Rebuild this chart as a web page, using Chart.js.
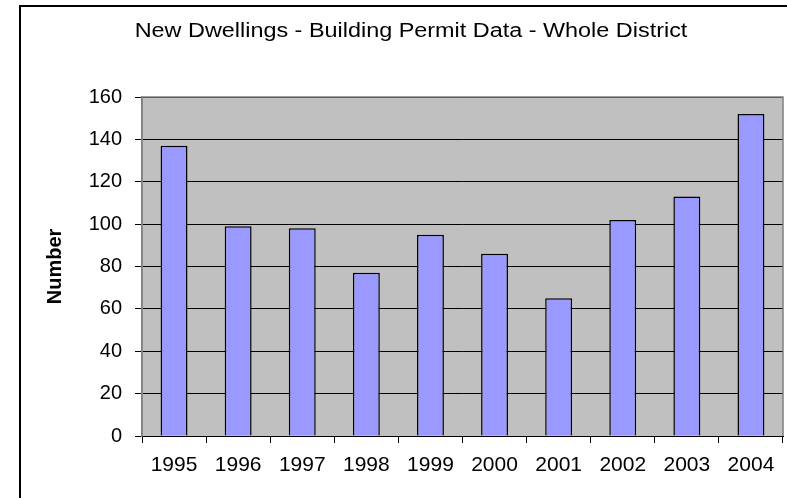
<!DOCTYPE html>
<html>
<head>
<meta charset="utf-8">
<script src="https://cdn.jsdelivr.net/npm/chart.js@4"></script>
<style>
  html, body { margin: 0; padding: 0; background: #fff; }
  #wrap { width: 787px; height: 498px; }
</style>
</head>
<body>
<div id="wrap"><canvas id="grafico"></canvas></div>
<script>
const titulo = "New Dwellings - Building Permit Data - Whole District";
const years = ["1995", "1996", "1997", "1998", "1999", "2000", "2001", "2002", "2003", "2004"];
const dwellings = [137, 99, 98, 77, 95, 86, 65, 102, 113, 152];
const yTicks = [0, 20, 40, 60, 80, 100, 120, 140, 160];
const yTitle = "Number";

// fondo gris, marco y titulo (estilo Excel)
const excelLook = {
  id: "excelLook",
  beforeDraw(chart) {
    const { ctx, chartArea: a } = chart;
    ctx.save();
    ctx.fillStyle = "#fff";
    ctx.fillRect(0, 0, chart.width, chart.height);
    ctx.fillStyle = "#C0C0C0";
    ctx.fillRect(a.left, a.top, a.right - a.left, a.bottom - a.top);
    // marco exterior
    ctx.strokeStyle = "#000";
    ctx.lineWidth = 2;
    ctx.beginPath();
    ctx.moveTo(20, chart.height + 2);
    ctx.lineTo(20, 6);
    ctx.lineTo(chart.width + 2, 6);
    ctx.stroke();
    // titulo
    ctx.fillStyle = "#000";
    ctx.font = "19.5px 'Liberation Sans', Arial, sans-serif";
    ctx.textAlign = "center";
    ctx.textBaseline = "middle";
    ctx.translate(411, 32);
    ctx.scale(1.2, 1);
    ctx.fillText(titulo, 0, 0);
    ctx.restore();
  },
  afterDraw(chart) {
    const { ctx, chartArea: a } = chart;
    ctx.save();
    ctx.strokeStyle = "#808080";
    ctx.lineWidth = 1.5;
    ctx.beginPath();
    ctx.moveTo(a.left, a.bottom);
    ctx.lineTo(a.left, a.top);
    ctx.lineTo(a.right, a.top);
    ctx.lineTo(a.right, a.bottom);
    ctx.stroke();
    ctx.restore();
  }
};

const ctx = document.getElementById("grafico").getContext("2d");
const grafico = new Chart(ctx, {
  type: "bar",
  data: {
    labels: years,
    datasets: [
      {
        label: "New Dwellings",
        data: dwellings,
        backgroundColor: "#9999FF",
        borderColor: "#000",
        borderWidth: 1.5,
        barPercentage: 0.42,
        categoryPercentage: 1,
      },
    ],
  },
  plugins: [excelLook],
  options: {
    responsive: true,
    maintainAspectRatio: false,
    animation: false,
    layout: { padding: { left: 36, top: 97, right: 4, bottom: 0 } },
    plugins: {
      legend: { display: false },
      title: { display: false },
      tooltip: { enabled: false },
    },
    scales: {
      x: {
        afterFit: (s) => { s.height = 62; },
        grid: {
          display: true,
          offset: true,
          drawOnChartArea: false,
          tickLength: 7,
          color: "#000",
        },
        border: { color: "#000", width: 1 },
        ticks: {
          color: "#000",
          padding: 10,
          maxRotation: 0,
          font: { family: "'Liberation Sans', Arial, sans-serif", size: 21 },
        },
      },
      y: {
        min: 0,
        max: 160,
        afterFit: (s) => { s.width = 106; },
        afterBuildTicks: (s) => { s.ticks = yTicks.map((v) => ({ value: v })); },
        grid: {
          color: "#000",
          lineWidth: 1,
          tickLength: 7,
        },
        border: { color: "#808080", width: 1.5 },
        ticks: {
          color: "#000",
          padding: 13,
          font: { family: "'Liberation Sans', Arial, sans-serif", size: 20 },
        },
        title: {
          display: true,
          text: yTitle,
          color: "#000",
          padding: { top: 7, bottom: 0 },
          font: { family: "'Liberation Sans', Arial, sans-serif", size: 20, weight: "bold" },
        },
      },
    },
  },
});
</script>
</body>
</html>
